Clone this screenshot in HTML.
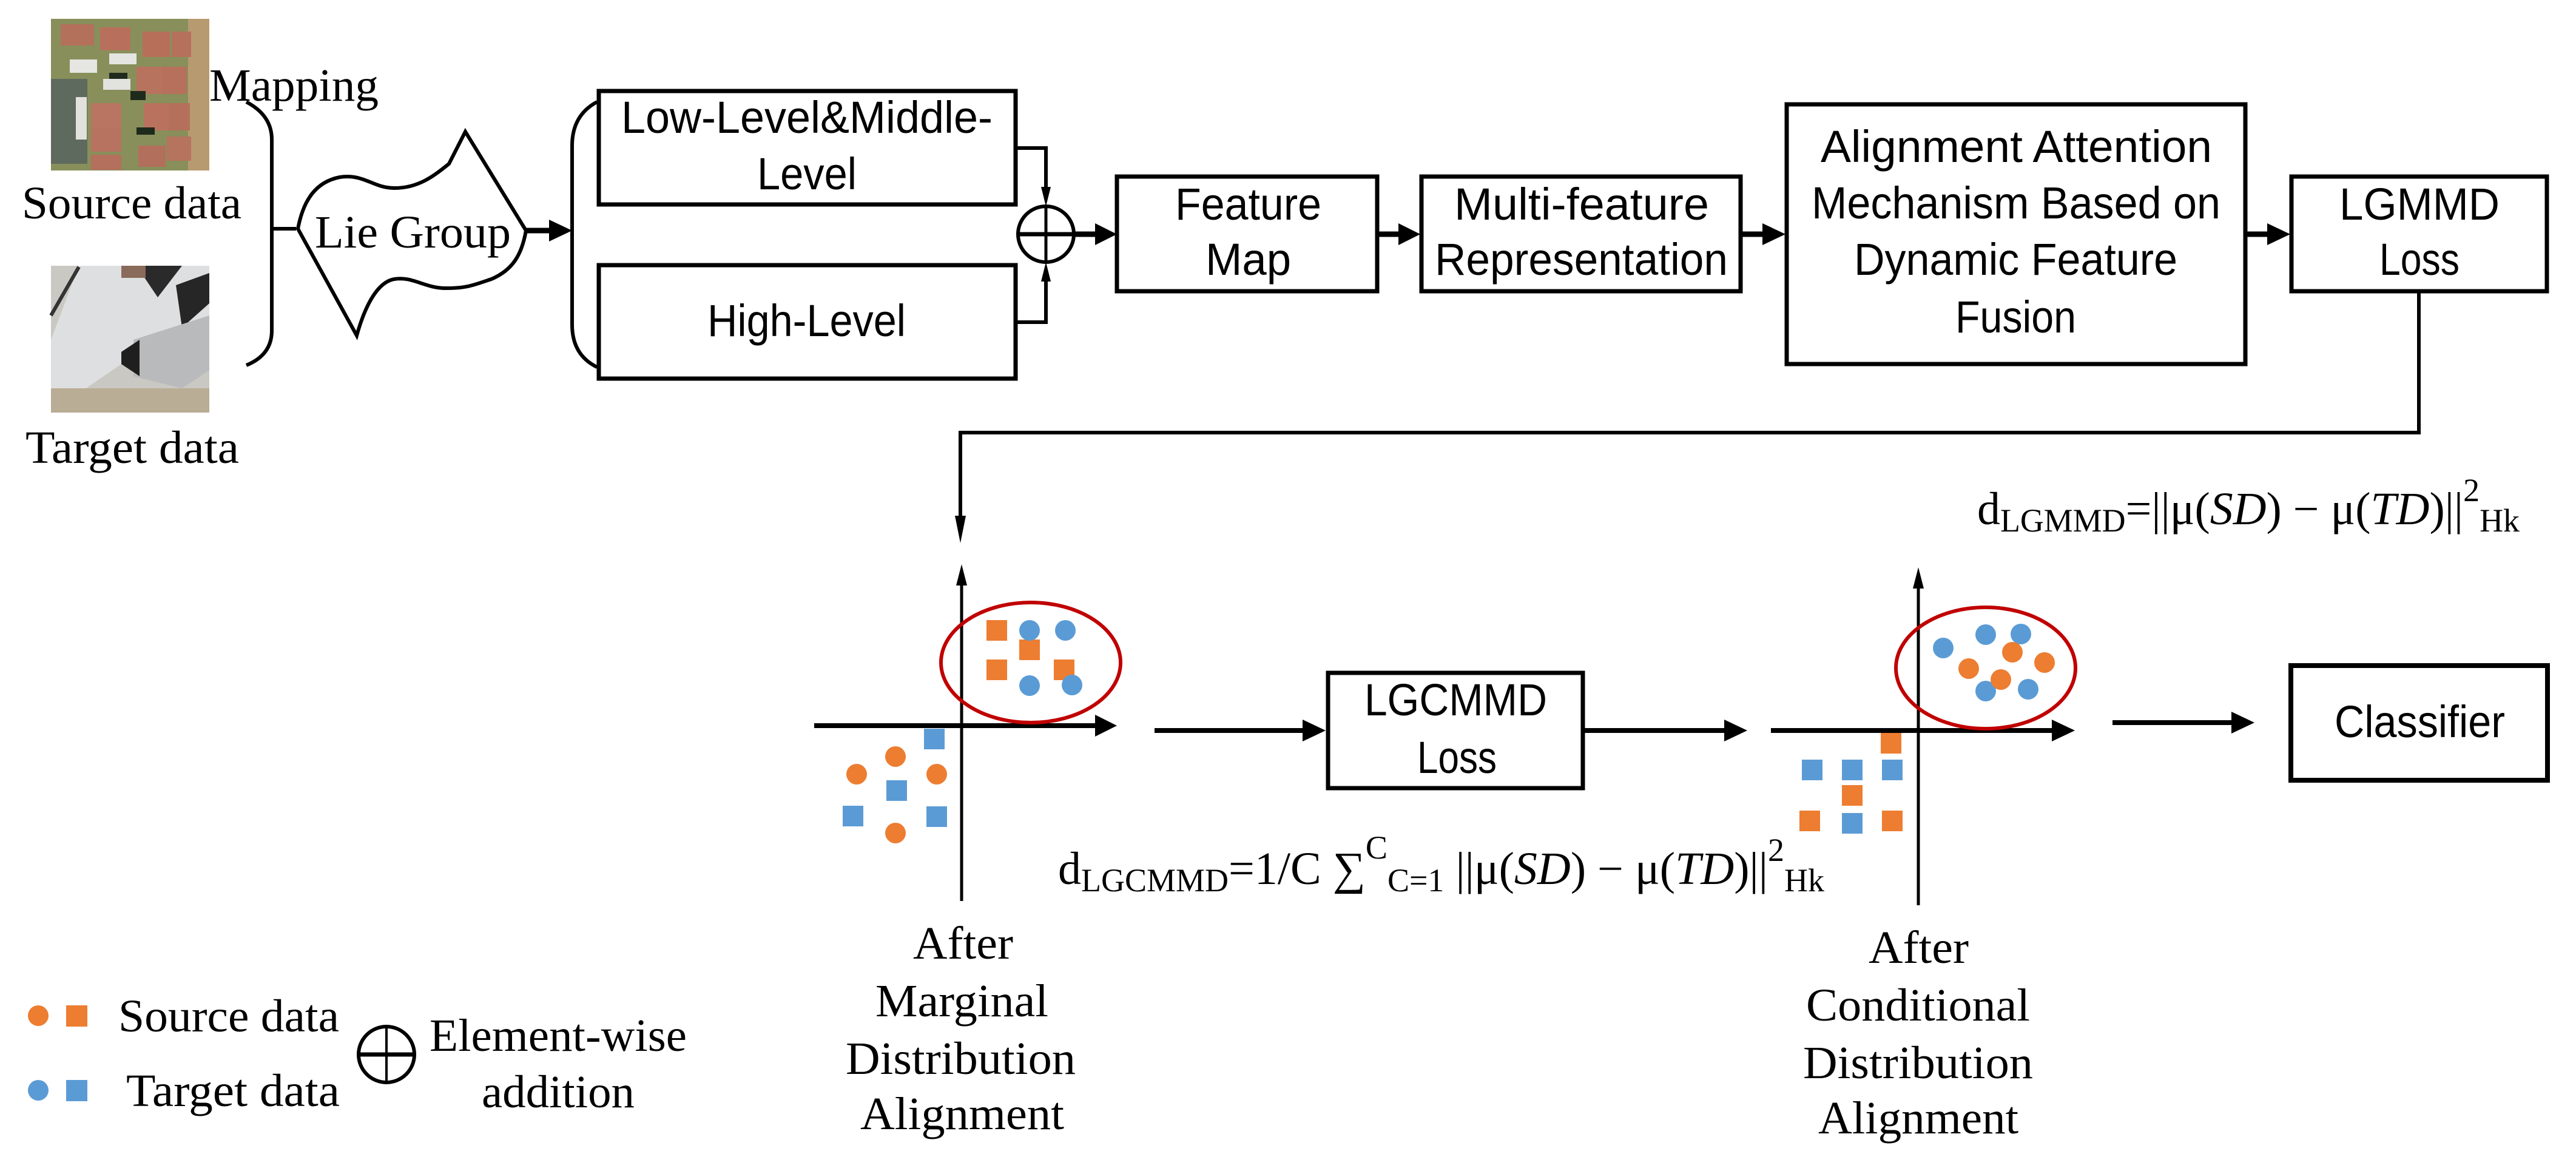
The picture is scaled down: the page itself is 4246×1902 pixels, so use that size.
<!DOCTYPE html>
<html><head><meta charset="utf-8"><style>
html,body{margin:0;padding:0;background:#fff}
svg{display:block}
.sans{font-family:"Liberation Sans",sans-serif;font-size:74px;fill:#000}
.serif{font-family:"Liberation Serif",serif;font-size:76px;fill:#000}
</style></head><body>
<svg width="4246" height="1902" viewBox="0 0 4246 1902" xmlns="http://www.w3.org/2000/svg">
<rect width="4246" height="1902" fill="#fff"/>

<!-- Source image -->
<g>
<rect x="84" y="31" width="261" height="250" fill="#7d8a55"/>
<rect x="84" y="31" width="261" height="250" fill="#a39a6a" opacity="0.3"/>
<rect x="84" y="130" width="60" height="140" fill="#5f6a5e"/>
<rect x="310" y="31" width="35" height="250" fill="#b89a70"/>
<rect x="100" y="40" width="55" height="35" fill="#b3705a"/>
<rect x="165" y="45" width="50" height="38" fill="#b8705c"/>
<rect x="235" y="52" width="45" height="42" fill="#b76f5a"/>
<rect x="283" y="52" width="32" height="42" fill="#b6715c"/>
<rect x="115" y="98" width="45" height="22" fill="#e6e6e2"/>
<rect x="180" y="88" width="45" height="18" fill="#e4e4e0"/>
<rect x="170" y="130" width="45" height="18" fill="#e2e2de"/>
<rect x="125" y="160" width="18" height="70" fill="#e1e1dd"/>
<rect x="225" y="110" width="45" height="45" fill="#b8735e"/>
<rect x="268" y="110" width="40" height="45" fill="#b6705c"/>
<rect x="150" y="170" width="50" height="40" fill="#b97561"/>
<rect x="150" y="210" width="50" height="40" fill="#b77360"/>
<rect x="237" y="170" width="42" height="45" fill="#b8725d"/>
<rect x="278" y="170" width="35" height="45" fill="#b5705b"/>
<rect x="228" y="240" width="45" height="35" fill="#b26f5b"/>
<rect x="275" y="225" width="40" height="40" fill="#b6735e"/>
<rect x="150" y="255" width="50" height="25" fill="#b4705c"/>
<rect x="215" y="150" width="25" height="15" fill="#1e2a1c"/>
<rect x="225" y="210" width="30" height="12" fill="#1e2a1c"/>
<rect x="180" y="120" width="30" height="10" fill="#1f2b1e"/>
</g>
<!-- Target image -->
<g>
<rect x="84" y="438" width="261" height="242" fill="#c9c8c2"/>
<polygon points="130,438 345,438 345,520 260,600 200,600 84,680 84,560" fill="#dedfe0"/>
<polygon points="225,438 300,438 260,490" fill="#2a2a2a"/>
<polygon points="290,470 345,450 345,500 300,540" fill="#262626"/>
<polygon points="220,560 345,520 345,610 300,640 220,620" fill="#b9babb"/>
<polygon points="200,580 230,560 230,620 200,600" fill="#1f1f1f"/>
<line x1="130" y1="440" x2="84" y2="520" stroke="#333" stroke-width="6"/>
<rect x="84" y="640" width="261" height="40" fill="#b9ad95"/>
<rect x="200" y="438" width="40" height="20" fill="#8a6a5a"/>
</g>

<!-- Left labels -->
<text class="serif" x="345" y="166" textLength="279" lengthAdjust="spacingAndGlyphs">Mapping</text>
<text class="serif" x="36" y="360" textLength="362" lengthAdjust="spacingAndGlyphs">Source data</text>
<text class="serif" x="42" y="763" textLength="352" lengthAdjust="spacingAndGlyphs">Target data</text>

<!-- brace 1 -->
<path d="M406,168 Q448,190 448,230 L448,377 M448,377 L448,545 Q448,585 406,602" fill="none" stroke="#000" stroke-width="6"/>
<line x1="448" y1="377" x2="488" y2="377" stroke="#000" stroke-width="6"/>

<!-- Lie group shape -->
<path d="M491,377 C500,330 520,300 560,292 C600,286 615,310 650,310 C690,310 715,290 740,270 L767,217 L867,380 C860,420 845,445 810,460 C780,470 770,475 735,475 C700,475 680,455 650,460 C620,465 600,510 588,553 Z" fill="#fff" stroke="#000" stroke-width="6" stroke-linejoin="miter"/>
<text class="serif" x="519" y="408" textLength="323" lengthAdjust="spacingAndGlyphs">Lie Group</text>
<line x1="867" y1="380" x2="910" y2="380" stroke="#000" stroke-width="9"/>
<polygon points="905,362 943,380 905,398" fill="#000"/>

<!-- bracket 2 -->
<path d="M984,168 Q943,190 943,240 L943,535 Q943,585 984,605" fill="none" stroke="#000" stroke-width="6"/>

<!-- Low / High boxes -->
<rect x="987" y="150" width="687" height="187" fill="#fff" stroke="#000" stroke-width="7"/>
<text class="sans" x="1024" y="219" textLength="612" lengthAdjust="spacingAndGlyphs">Low-Level&amp;Middle-</text>
<text class="sans" x="1248" y="312" textLength="164" lengthAdjust="spacingAndGlyphs">Level</text>
<rect x="987" y="437" width="687" height="187" fill="#fff" stroke="#000" stroke-width="7"/>
<text class="sans" x="1166" y="554" textLength="327" lengthAdjust="spacingAndGlyphs">High-Level</text>

<!-- connectors into circle-plus -->
<polyline points="1674,244 1724,244 1724,318" fill="none" stroke="#000" stroke-width="6"/>
<polygon points="1716,308 1724,340 1732,308" fill="#000"/>
<polyline points="1674,531 1724,531 1724,455" fill="none" stroke="#000" stroke-width="6"/>
<polygon points="1716,464 1724,432 1732,464" fill="#000"/>
<circle cx="1724" cy="386" r="46" fill="#fff" stroke="#000" stroke-width="6"/>
<line x1="1678" y1="386" x2="1770" y2="386" stroke="#000" stroke-width="7"/>
<line x1="1724" y1="340" x2="1724" y2="432" stroke="#000" stroke-width="5"/>
<line x1="1770" y1="386" x2="1810" y2="386" stroke="#000" stroke-width="9"/>
<polygon points="1805,368 1841,386 1805,404" fill="#000"/>

<!-- top row boxes -->
<rect x="1841" y="291" width="429" height="189" fill="#fff" stroke="#000" stroke-width="7"/>
<text class="sans" x="1937" y="362" textLength="241" lengthAdjust="spacingAndGlyphs">Feature</text>
<text class="sans" x="1987" y="453" textLength="141" lengthAdjust="spacingAndGlyphs">Map</text>
<line x1="2270" y1="386" x2="2310" y2="386" stroke="#000" stroke-width="9"/>
<polygon points="2305,368 2341,386 2305,404" fill="#000"/>

<rect x="2343" y="291" width="526" height="189" fill="#fff" stroke="#000" stroke-width="7"/>
<text class="sans" x="2397" y="362" textLength="420" lengthAdjust="spacingAndGlyphs">Multi-feature</text>
<text class="sans" x="2365" y="453" textLength="483" lengthAdjust="spacingAndGlyphs">Representation</text>
<line x1="2869" y1="386" x2="2910" y2="386" stroke="#000" stroke-width="9"/>
<polygon points="2905,368 2943,386 2905,404" fill="#000"/>

<rect x="2945" y="172" width="756" height="428" fill="#fff" stroke="#000" stroke-width="7"/>
<text class="sans" x="3001" y="267" textLength="645" lengthAdjust="spacingAndGlyphs">Alignment Attention</text>
<text class="sans" x="2986" y="360" textLength="674" lengthAdjust="spacingAndGlyphs">Mechanism Based on</text>
<text class="sans" x="3056" y="453" textLength="533" lengthAdjust="spacingAndGlyphs">Dynamic Feature</text>
<text class="sans" x="3223" y="548" textLength="199" lengthAdjust="spacingAndGlyphs">Fusion</text>
<line x1="3701" y1="386" x2="3742" y2="386" stroke="#000" stroke-width="9"/>
<polygon points="3737,368 3775,386 3737,404" fill="#000"/>

<rect x="3777" y="291" width="421" height="189" fill="#fff" stroke="#000" stroke-width="7"/>
<text class="sans" x="3856" y="362" textLength="264" lengthAdjust="spacingAndGlyphs">LGMMD</text>
<text class="sans" x="3922" y="453" textLength="132" lengthAdjust="spacingAndGlyphs">Loss</text>

<!-- feedback -->
<polyline points="3987,480 3987,713 1583,713 1583,860" fill="none" stroke="#000" stroke-width="6"/>
<polygon points="1574,850 1583,895 1592,850" fill="#000"/>

<!-- LGMMD formula -->
<text class="serif" x="3259" y="864" font-size="78" textLength="894" lengthAdjust="spacingAndGlyphs">d<tspan font-size="54" dy="12">LGMMD</tspan><tspan dy="-12">=||μ(</tspan><tspan font-style="italic">SD</tspan>) − μ(<tspan font-style="italic">TD</tspan>)||<tspan font-size="54" dy="-38">2</tspan><tspan font-size="54" dy="50">Hk</tspan></text>

<!-- Left plot -->
<line x1="1585" y1="1485" x2="1585" y2="960" stroke="#000" stroke-width="5"/>
<polygon points="1576,965 1585,930 1594,965" fill="#000"/>
<line x1="1342" y1="1196" x2="1810" y2="1196" stroke="#000" stroke-width="8"/>
<polygon points="1805,1178 1841,1196 1805,1214" fill="#000"/>
<ellipse cx="1699" cy="1092" rx="148" ry="99" fill="none" stroke="#c00000" stroke-width="6"/>
<g fill="#ed7d31">
<rect x="1626" y="1022" width="34" height="34"/><rect x="1680" y="1054" width="34" height="34"/>
<rect x="1626" y="1087" width="34" height="34"/><rect x="1737" y="1087" width="34" height="34"/>
<circle cx="1412" cy="1276" r="17"/><circle cx="1476" cy="1247" r="17"/><circle cx="1544" cy="1276" r="17"/><circle cx="1476" cy="1373" r="17"/>
</g>
<g fill="#5b9bd5">
<circle cx="1697" cy="1039" r="17"/><circle cx="1756" cy="1039" r="17"/><circle cx="1697" cy="1130" r="17"/><circle cx="1767" cy="1129" r="17"/>
<rect x="1523" y="1201" width="34" height="34"/><rect x="1461" y="1286" width="34" height="34"/>
<rect x="1389" y="1328" width="34" height="34"/><rect x="1527" y="1329" width="34" height="34"/>
</g>

<line x1="1903" y1="1204" x2="2150" y2="1204" stroke="#000" stroke-width="8"/>
<polygon points="2147,1186 2185,1204 2147,1222" fill="#000"/>
<rect x="2189" y="1109" width="420" height="190" fill="#fff" stroke="#000" stroke-width="7"/>
<text class="sans" x="2249" y="1179" textLength="301" lengthAdjust="spacingAndGlyphs">LGCMMD</text>
<text class="sans" x="2336" y="1274" textLength="131" lengthAdjust="spacingAndGlyphs">Loss</text>
<line x1="2609" y1="1204" x2="2845" y2="1204" stroke="#000" stroke-width="8"/>
<polygon points="2842,1186 2880,1204 2842,1222" fill="#000"/>

<!-- Right plot -->
<line x1="3162" y1="1492" x2="3162" y2="965" stroke="#000" stroke-width="5"/>
<polygon points="3153,970 3162,935 3171,970" fill="#000"/>
<line x1="2919" y1="1204" x2="3385" y2="1204" stroke="#000" stroke-width="8"/>
<polygon points="3382,1186 3420,1204 3382,1222" fill="#000"/>
<ellipse cx="3273" cy="1101" rx="148" ry="100" fill="none" stroke="#c00000" stroke-width="6"/>
<g fill="#5b9bd5">
<circle cx="3203" cy="1068" r="17"/><circle cx="3273" cy="1046" r="17"/><circle cx="3331" cy="1045" r="17"/><circle cx="3273" cy="1139" r="17"/><circle cx="3343" cy="1136" r="17"/>
<rect x="2970" y="1252" width="34" height="34"/><rect x="3036" y="1252" width="34" height="34"/><rect x="3102" y="1252" width="34" height="34"/><rect x="3036" y="1340" width="34" height="34"/>
</g>
<g fill="#ed7d31">
<circle cx="3317" cy="1075" r="17"/><circle cx="3245" cy="1102" r="17"/><circle cx="3370" cy="1092" r="17"/><circle cx="3298" cy="1120" r="17"/>
<rect x="3100" y="1208" width="34" height="34"/><rect x="3036" y="1294" width="34" height="34"/><rect x="2966" y="1336" width="34" height="34"/><rect x="3102" y="1336" width="34" height="34"/>
</g>
<line x1="3482" y1="1191" x2="3680" y2="1191" stroke="#000" stroke-width="8"/>
<polygon points="3678,1173 3716,1191 3678,1209" fill="#000"/>
<rect x="3776" y="1097" width="423" height="189" fill="#fff" stroke="#000" stroke-width="8"/>
<text class="sans" x="3848" y="1215" textLength="281" lengthAdjust="spacingAndGlyphs">Classifier</text>

<!-- LGCMMD formula -->
<text class="serif" x="1744" y="1457" font-size="78" textLength="1263" lengthAdjust="spacingAndGlyphs">d<tspan font-size="54" dy="12">LGCMMD</tspan><tspan dy="-12">=1/C ∑</tspan><tspan font-size="54" dy="-42">C</tspan><tspan font-size="54" dy="54">C=1</tspan><tspan dy="-12"> ||μ(</tspan><tspan font-style="italic">SD</tspan>) − μ(<tspan font-style="italic">TD</tspan>)||<tspan font-size="54" dy="-38">2</tspan><tspan font-size="54" dy="50">Hk</tspan></text>

<!-- After labels -->
<g class="serif">
<text x="1505" y="1580" textLength="165" lengthAdjust="spacingAndGlyphs">After</text>
<text x="1443" y="1675" textLength="285" lengthAdjust="spacingAndGlyphs">Marginal</text>
<text x="1394" y="1770" textLength="379" lengthAdjust="spacingAndGlyphs">Distribution</text>
<text x="1418" y="1861" textLength="336" lengthAdjust="spacingAndGlyphs">Alignment</text>
<text x="3080" y="1587" textLength="165" lengthAdjust="spacingAndGlyphs">After</text>
<text x="2977" y="1682" textLength="369" lengthAdjust="spacingAndGlyphs">Conditional</text>
<text x="2972" y="1777" textLength="379" lengthAdjust="spacingAndGlyphs">Distribution</text>
<text x="2997" y="1868" textLength="330" lengthAdjust="spacingAndGlyphs">Alignment</text>
</g>

<!-- Legend -->
<circle cx="63" cy="1674" r="17" fill="#ed7d31"/>
<rect x="109" y="1657" width="35" height="35" fill="#ed7d31"/>
<circle cx="63" cy="1797" r="17" fill="#5b9bd5"/>
<rect x="109" y="1780" width="35" height="35" fill="#5b9bd5"/>
<text class="serif" x="195" y="1700" textLength="364" lengthAdjust="spacingAndGlyphs">Source data</text>
<text class="serif" x="208" y="1823" textLength="352" lengthAdjust="spacingAndGlyphs">Target data</text>
<circle cx="637" cy="1738" r="46" fill="#fff" stroke="#000" stroke-width="6"/>
<line x1="591" y1="1738" x2="683" y2="1738" stroke="#000" stroke-width="7"/>
<line x1="637" y1="1692" x2="637" y2="1784" stroke="#000" stroke-width="4"/>
<text class="serif" x="708" y="1732" textLength="424" lengthAdjust="spacingAndGlyphs">Element-wise</text>
<text class="serif" x="794" y="1825" textLength="252" lengthAdjust="spacingAndGlyphs">addition</text>
</svg>
</body></html>
